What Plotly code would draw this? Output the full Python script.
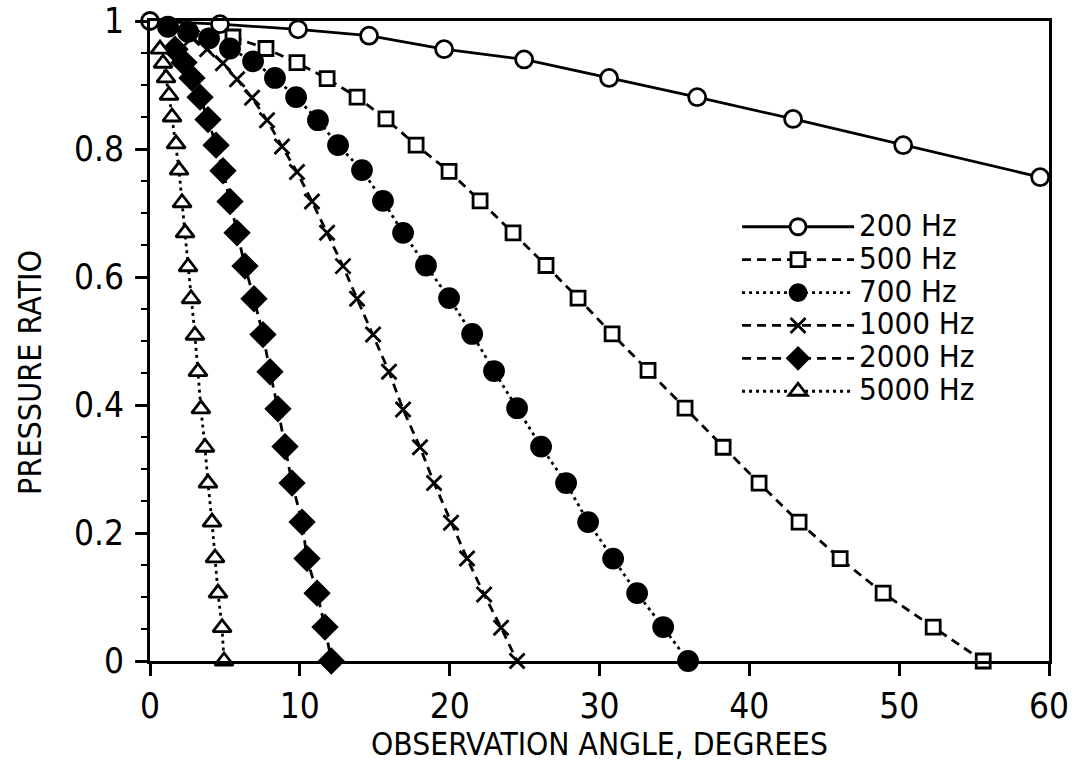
import plotly.graph_objects as go

# ---- data ----
f200_x = [0, 4.67, 9.88, 14.62, 19.63, 24.97, 30.64, 36.52, 42.92, 50.27, 59.41]
f200_y = [1.0, 0.995, 0.987, 0.977, 0.956, 0.940, 0.911, 0.881, 0.847, 0.806, 0.756]

f500_x = [5.54, 7.74, 9.81, 11.82, 13.82, 15.75, 17.76, 19.96, 22.03, 24.23, 26.43,
          28.57, 30.84, 33.24, 35.71, 38.25, 40.65, 43.32, 46.06, 48.93, 52.27, 55.61]
f500_y = [0.975, 0.957, 0.935, 0.910, 0.881, 0.847, 0.806, 0.765, 0.719, 0.669, 0.618,
          0.567, 0.511, 0.454, 0.395, 0.334, 0.278, 0.217, 0.160, 0.106, 0.053, 0.0]

f700_x = [1.20, 2.54, 3.94, 5.34, 6.88, 8.34, 9.75, 11.21, 12.55, 14.15, 15.55, 16.89,
          18.42, 19.96, 21.50, 22.96, 24.50, 26.10, 27.77, 29.24, 30.91, 32.51, 34.25, 35.91]
f700_y = [0.991, 0.983, 0.973, 0.957, 0.937, 0.911, 0.881, 0.845, 0.806, 0.767, 0.719, 0.669,
          0.618, 0.567, 0.511, 0.453, 0.395, 0.335, 0.278, 0.217, 0.160, 0.106, 0.053, 0.0]

f1000_x = [2.80, 3.81, 4.87, 5.81, 6.81, 7.81, 8.81, 9.81, 10.81, 11.82, 12.88, 13.82,
           14.89, 15.95, 16.89, 18.02, 18.96, 20.09, 21.16, 22.30, 23.43, 24.50]
f1000_y = [0.974, 0.956, 0.934, 0.909, 0.880, 0.845, 0.804, 0.764, 0.718, 0.669, 0.617, 0.566,
           0.510, 0.452, 0.393, 0.334, 0.278, 0.216, 0.160, 0.104, 0.052, 0.0]

f2000_x = [1.67, 2.27, 2.80, 3.34, 3.87, 4.41, 4.87, 5.34, 5.81, 6.34, 6.94, 7.54,
           8.01, 8.54, 9.01, 9.48, 10.15, 10.48, 11.15, 11.68, 12.10]
f2000_y = [0.956, 0.935, 0.911, 0.881, 0.846, 0.806, 0.766, 0.718, 0.669, 0.617, 0.566, 0.510,
           0.452, 0.394, 0.335, 0.278, 0.217, 0.160, 0.106, 0.053, 0.0]

f5000_x = [0.67, 0.87, 1.07, 1.27, 1.47, 1.74, 1.94, 2.14, 2.34, 2.54, 2.74, 3.00,
           3.20, 3.40, 3.67, 3.87, 4.14, 4.34, 4.54, 4.81, 4.94]
f5000_y = [0.956, 0.934, 0.911, 0.884, 0.850, 0.808, 0.767, 0.716, 0.669, 0.616, 0.566, 0.509,
           0.452, 0.394, 0.334, 0.278, 0.217, 0.161, 0.106, 0.052, 0.0]

names = ["200 Hz", "500 Hz", "700 Hz", "1000 Hz", "2000 Hz", "5000 Hz"]
x_ticks = [0, 10, 20, 30, 40, 50, 60]
y_ticks = [0, 0.2, 0.4, 0.6, 0.8, 1]
y_tick_text = ["0", "0.2", "0.4", "0.6", "0.8", "1"]

FONT = "Liberation Sans Narrow, DejaVu Sans Condensed, Roboto Condensed, Arial Narrow, Liberation Sans, sans-serif"
BLACK = "#000000"

styles = [
    dict(dash="solid", symbol="circle", size=17, fill="white"),
    dict(dash="9px,6px", symbol="square", size=14, fill="white"),
    dict(dash="3px,4px", symbol="circle", size=19, fill=BLACK),
    dict(dash="9px,6px", symbol="x-thin-open", size=15, fill=BLACK),
    dict(dash="9px,6px", symbol="diamond", size=18, fill=BLACK),
    dict(dash="3px,4px", symbol="triangle-up", size=16, fill="white"),
]
series = [(f200_x, f200_y), (f500_x, f500_y), (f700_x, f700_y),
          (f1000_x, f1000_y), (f2000_x, f2000_y), (f5000_x, f5000_y)]

fig = go.Figure()
for (xs, ys), nm, st in zip(series, names, styles):
    fig.add_trace(go.Scatter(
        x=xs, y=ys, mode="lines+markers", cliponaxis=False,
        name="<span style='font-size:31px'>" + nm + "</span>",
        line=dict(color=BLACK, width=2.8, dash=st["dash"]),
        marker=dict(symbol=st["symbol"], size=st["size"], color=st["fill"],
                    line=dict(color=BLACK, width=2.8)),
    ))

fig.update_layout(
    width=1079, height=766,
    margin=dict(l=150, r=30, t=21, b=105),
    paper_bgcolor="white", plot_bgcolor="white",
    font=dict(family=FONT, color=BLACK, size=30),
    showlegend=True,
    legend=dict(x=0.653, y=0.712, xanchor="left", yanchor="top",
                bgcolor="rgba(0,0,0,0)", font=dict(size=23, family=FONT),
                itemwidth=112, tracegroupgap=0),
    annotations=[dict(text="PRESSURE RATIO", textangle=-90, xref="paper", yref="paper",
                      x=-0.1335, y=0.4516, xanchor="center", yanchor="middle",
                      showarrow=False, font=dict(size=32, family=FONT))],
)
fig.update_xaxes(
    range=[0, 60], tickvals=x_ticks, ticks="outside", ticklen=12, tickwidth=2.5,
    tickcolor=BLACK, showline=True, linewidth=3, linecolor=BLACK, mirror=True,
    showgrid=False, zeroline=False, tickfont=dict(size=35, family=FONT), automargin=False,
    title=dict(text="OBSERVATION ANGLE, DEGREES", font=dict(size=31.5, family=FONT), standoff=6),
)
fig.update_yaxes(
    range=[0, 1], tickvals=y_ticks, ticktext=y_tick_text, ticks="outside", ticklen=12,
    tickwidth=2.5, tickcolor=BLACK, showline=True, linewidth=3, linecolor=BLACK,
    mirror=True, showgrid=False, zeroline=False, tickfont=dict(size=35, family=FONT),
    automargin=False, ticklabelstandoff=4,
    minor=dict(dtick=0.05, ticks="outside", ticklen=6, tickwidth=2, tickcolor=BLACK, showgrid=False),
)

fig.write_html("out.html")
